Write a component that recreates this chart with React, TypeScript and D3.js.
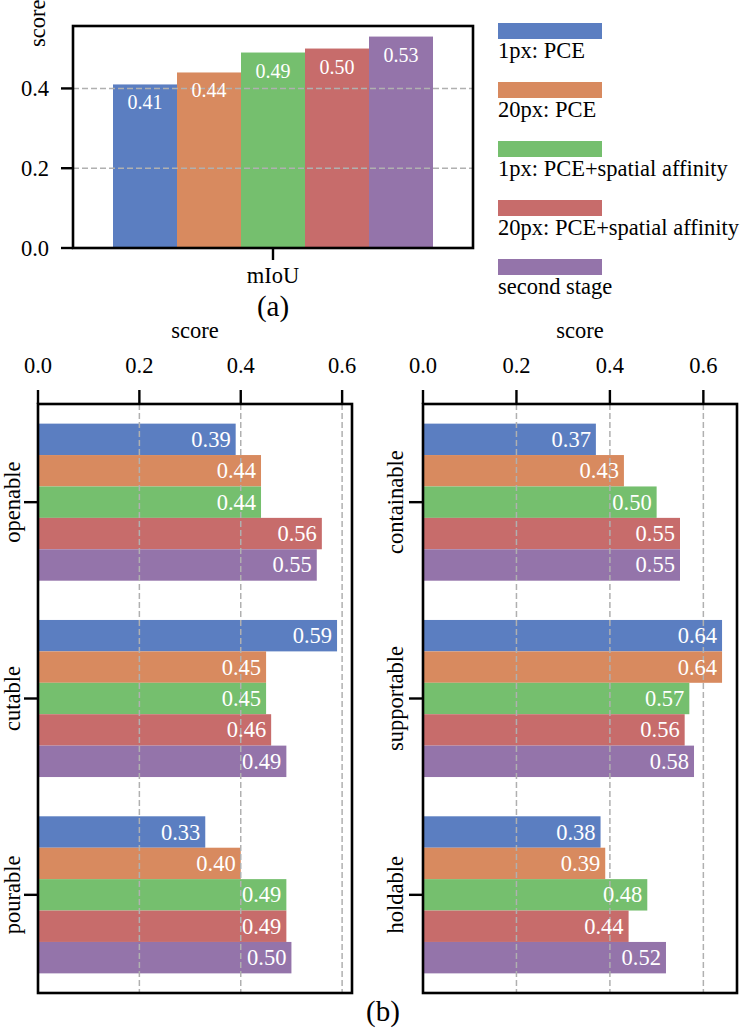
import React from 'react';
import * as d3 from 'd3';

const series = [
  '1px: PCE',
  '20px: PCE',
  '1px: PCE+spatial affinity',
  '20px: PCE+spatial affinity',
  'second stage',
];
const colors = ['#5b7ec1', '#d88a5f', '#75bf6e', '#c76c6b', '#9474aa'];

const mIoU = [0.41, 0.44, 0.49, 0.5, 0.53];

const leftCats = ['openable', 'cutable', 'pourable'];
const leftVals = [
  [0.39, 0.59, 0.33],
  [0.44, 0.45, 0.4],
  [0.44, 0.45, 0.49],
  [0.56, 0.46, 0.49],
  [0.55, 0.49, 0.5],
];

const rightCats = ['containable', 'supportable', 'holdable'];
const rightVals = [
  [0.37, 0.64, 0.38],
  [0.43, 0.64, 0.39],
  [0.5, 0.57, 0.48],
  [0.55, 0.56, 0.44],
  [0.55, 0.58, 0.52],
];

const topTicks = [0, 0.2, 0.4];
const bottomTicks = [0, 0.2, 0.4, 0.6];

const FONT = '"Liberation Serif", "Times New Roman", serif';
const GRID = '#b0b0b0';
const SPINE = 2.6;
const TICK_W = 2.4;
const BAR_W = 0.16;

const fmt = d3.format('.2f');
const tickFmt = d3.format('.1f');

function TopChart() {
  const x = d3.scaleLinear().domain([-0.5, 0.5]).range([73, 473]);
  const y = d3.scaleLinear().domain([0, 0.53 * 1.05]).range([248, 26]);
  const [x0, x1] = x.range();
  const [y0, y1] = y.range();
  return (
    <g>
      {mIoU.map((v, i) => {
        const c = (i - 2) * BAR_W;
        return (
          <rect key={i} x={x(c - BAR_W / 2)} y={y(v)} width={x(c + BAR_W / 2) - x(c - BAR_W / 2)}
            height={y(0) - y(v)} fill={colors[i]} />
        );
      })}
      {topTicks.filter(t => t > 0).map(t => (
        <line key={t} x1={x0} x2={x1} y1={y(t)} y2={y(t)} stroke={GRID} strokeWidth={1.5} strokeDasharray="6,3" />
      ))}
      {mIoU.map((v, i) => (
        <text key={i} x={x((i - 2) * BAR_W)} y={y(v) + 25} textAnchor="middle" fill="#fff" fontSize={20}>
          {fmt(v)}
        </text>
      ))}
      <rect x={x0} y={y1} width={x1 - x0} height={y0 - y1} fill="none" stroke="#000" strokeWidth={SPINE} />
      {topTicks.map(t => (
        <g key={t}>
          <line x1={x0 - 12} x2={x0} y1={y(t)} y2={y(t)} stroke="#000" strokeWidth={TICK_W} />
          <text x={x0 - 24} y={y(t) + 8} textAnchor="end" fontSize={22.5}>{tickFmt(t)}</text>
        </g>
      ))}
      <line x1={x(0)} x2={x(0)} y1={y0} y2={y0 + 12} stroke="#000" strokeWidth={TICK_W} />
      <text x={x(0)} y={283} textAnchor="middle" fontSize={22.5}>mIoU</text>
      <text transform="translate(45,47) rotate(-90)" fontSize={22.5}>score</text>
      <text x={x(0)} y={316} textAnchor="middle" fontSize={29}>(a)</text>
      {series.map((s, i) => (
        <g key={s} transform={`translate(498,${23 + i * 59})`}>
          <rect x={0} y={0} width={104} height={16} fill={colors[i]} />
          <text x={0} y={35} fontSize={22.5}>{s}</text>
        </g>
      ))}
    </g>
  );
}

function HBarPanel({ cats, vals, left, right, labelX }: {
  cats: string[]; vals: number[][]; left: number; right: number; labelX: number;
}) {
  const maxV = d3.max(vals.flat()) as number;
  const x = d3.scaleLinear().domain([0, maxV * 1.05]).range([left, right]);
  const y = d3.scaleLinear().domain([-0.5, cats.length - 0.5]).range([404, 993]);
  const [y0, y1] = y.range();
  const barH = y(BAR_W) - y(0);
  return (
    <g>
      {vals.map((row, i) =>
        row.map((v, j) => {
          const c = j + (i - 2) * BAR_W;
          return (
            <rect key={`${i}-${j}`} x={left} y={y(c - BAR_W / 2)} width={x(v) - left} height={barH} fill={colors[i]} />
          );
        })
      )}
      {bottomTicks.filter(t => t > 0).map(t => (
        <line key={t} x1={x(t)} x2={x(t)} y1={y0} y2={y1} stroke={GRID} strokeWidth={1.5} strokeDasharray="6,3" />
      ))}
      {vals.map((row, i) =>
        row.map((v, j) => (
          <text key={`${i}-${j}`} x={x(v) - 5} y={y(j + (i - 2) * BAR_W) + 7.5} textAnchor="end" fill="#fff" fontSize={22.5}>
            {fmt(v)}
          </text>
        ))
      )}
      <rect x={left} y={y0} width={right - left} height={y1 - y0} fill="none" stroke="#000" strokeWidth={SPINE} />
      {bottomTicks.map(t => (
        <g key={t}>
          <line x1={x(t)} x2={x(t)} y1={y0 - 14} y2={y0} stroke="#000" strokeWidth={TICK_W} />
          <text x={x(t)} y={373} textAnchor="middle" fontSize={22.5}>{tickFmt(t)}</text>
        </g>
      ))}
      <text x={(left + right) / 2} y={338} textAnchor="middle" fontSize={22.5}>score</text>
      {cats.map((c, j) => (
        <g key={c}>
          <line x1={left - 14} x2={left} y1={y(j)} y2={y(j)} stroke="#000" strokeWidth={TICK_W} />
          <text transform={`translate(${labelX},${y(j)}) rotate(-90)`} textAnchor="middle" fontSize={22.5}>{c}</text>
        </g>
      ))}
    </g>
  );
}

export default function App() {
  return (
    <svg width={746} height={1032} style={{ position: 'absolute', left: 0, top: 0, background: '#fff' }}
      fontFamily={FONT}>
      <rect width={746} height={1032} fill="#fff" />
      <TopChart />
      <HBarPanel cats={leftCats} vals={leftVals} left={38} right={352} labelX={20} />
      <HBarPanel cats={rightCats} vals={rightVals} left={423} right={737} labelX={403} />
      <text x={383} y={1021} textAnchor="middle" fontSize={29}>(b)</text>
    </svg>
  );
}
